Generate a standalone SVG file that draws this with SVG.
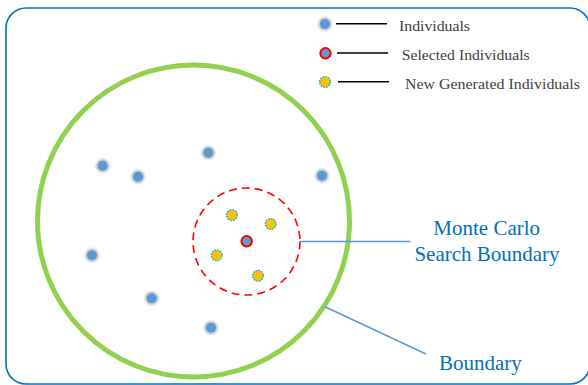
<svg xmlns="http://www.w3.org/2000/svg" width="588" height="385" viewBox="0 0 588 385">
  <defs>
    <filter id="halo" x="-50%" y="-50%" width="200%" height="200%">
      <feGaussianBlur stdDeviation="0.8"/>
    </filter>
    <style>
      .frame { fill: #FFFFFF; stroke: #0070C0; stroke-width: 1.6; }
      .bound { fill: none; stroke: #92D050; stroke-width: 5; }
      .search { fill: none; stroke: #FF0000; stroke-width: 1.6; stroke-dasharray: 8 5; }
      .halo { fill: #BFBFBF; filter: url(#halo); }
      .ind { fill: #5B9BD5; }
      .sel { fill: #5B9BD5; stroke: #FF0000; stroke-width: 2; }
      .gen { fill: #FFC000; stroke: #00B0F0; stroke-width: 1.4; stroke-dasharray: 1.6 1.2; }
      .key { stroke: #000000; stroke-width: 1.6; }
      .lead { stroke: #5B9BD5; stroke-width: 1.6; fill: none; }
      .legend { font-family: "Liberation Serif", "Times New Roman", serif; font-size: 15px; fill: #404040; }
      .label { font-family: "Liberation Serif", "Times New Roman", serif; font-size: 21px; fill: #0070C0; }
    </style>
  </defs>

  <!-- outer frame -->
  <rect class="frame" x="6" y="8" width="584" height="376" rx="20" ry="20"/>

  <!-- search space boundary -->
  <g id="boundary">
    <circle class="bound" cx="193.5" cy="221" r="156"/>
  </g>

  <!-- Monte Carlo neighbourhood -->
  <g id="search-boundary">
    <circle class="search" cx="246.5" cy="241.5" r="53.5"/>
  </g>

  <!-- population -->
  <g id="individuals">
    <circle class="halo" cx="102.7" cy="165.7" r="6.8"/><circle class="ind" cx="102.7" cy="165.7" r="5"/>
    <circle class="halo" cx="138" cy="176.7" r="6.8"/><circle class="ind" cx="138" cy="176.7" r="5"/>
    <circle class="halo" cx="208.3" cy="152.7" r="6.8"/><circle class="ind" cx="208.3" cy="152.7" r="5"/>
    <circle class="halo" cx="322" cy="175.7" r="6.8"/><circle class="ind" cx="322" cy="175.7" r="5"/>
    <circle class="halo" cx="92" cy="255.3" r="6.8"/><circle class="ind" cx="92" cy="255.3" r="5"/>
    <circle class="halo" cx="151.7" cy="298.3" r="6.8"/><circle class="ind" cx="151.7" cy="298.3" r="5"/>
    <circle class="halo" cx="211" cy="327.7" r="6.8"/><circle class="ind" cx="211" cy="327.7" r="5"/>
  </g>

  <g id="selected">
    <circle class="sel" cx="246.7" cy="241.3" r="5.2"/>
  </g>

  <g id="generated">
    <circle class="gen" cx="232" cy="215" r="5.4"/>
    <circle class="gen" cx="270.7" cy="224" r="5.4"/>
    <circle class="gen" cx="216.7" cy="255.3" r="5.4"/>
    <circle class="gen" cx="258" cy="275.7" r="5.4"/>
  </g>

  <!-- legend -->
  <g id="legend">
    <circle class="halo" cx="325" cy="24" r="6.8"/><circle class="ind" cx="325" cy="24" r="5"/>
    <line class="key" x1="336" y1="23.7" x2="387" y2="23.7"/>
    <text class="legend" x="399" y="31" textLength="71" lengthAdjust="spacingAndGlyphs">Individuals</text>

    <circle class="sel" cx="325.5" cy="53.3" r="5.2"/>
    <line class="key" x1="337" y1="53" x2="388" y2="53"/>
    <text class="legend" x="401.7" y="60" textLength="128" lengthAdjust="spacingAndGlyphs">Selected Individuals</text>

    <circle class="gen" cx="325" cy="82" r="5.4"/>
    <line class="key" x1="338" y1="81.7" x2="389" y2="81.7"/>
    <text class="legend" x="405" y="89" textLength="175" lengthAdjust="spacingAndGlyphs">New Generated Individuals</text>
  </g>

  <!-- leader lines -->
  <g id="connectors">
    <line class="lead" x1="300" y1="241.5" x2="410.5" y2="241.5"/>
    <line class="lead" x1="325" y1="306.7" x2="426" y2="354"/>
  </g>

  <g id="label-search">
    <text class="label" text-anchor="middle" x="486.7" y="235">Monte Carlo</text>
    <text class="label" text-anchor="middle" x="487" y="261">Search Boundary</text>
  </g>
  <g id="label-boundary">
    <text class="label" x="439" y="370">Boundary</text>
  </g>
</svg>
